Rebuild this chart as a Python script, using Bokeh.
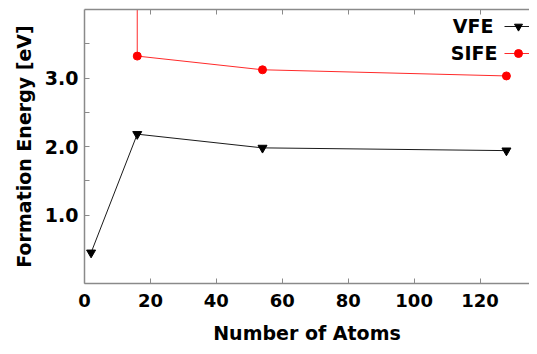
from bokeh.plotting import figure
from bokeh.models import Range1d, LinearAxis, FixedTicker, Legend, LegendItem, Label
from bokeh.core.properties import value
from bokeh.embed import file_html
from bokeh.resources import INLINE

# ---- data ----
atoms = [2, 16, 54, 128]
vfe = [0.45, 2.18, 1.98, 1.94]
sife_atoms = [16, 16, 54, 128]
sife = [4.6, 3.32, 3.12, 3.03]          # first value is off the top of the scale
x_ticks = [0, 20, 40, 60, 80, 100, 120]
y_ticks = [1.0, 2.0, 3.0]
y_minor = [1.5, 2.5, 3.5]
series_names = ["VFE", "SIFE"]

FONT = "DejaVu Sans"
AX = "#8a8a8a"

p = figure(width=529, height=346, x_range=Range1d(0, 135), y_range=Range1d(0, 4),
           output_backend="svg", toolbar_location=None,
           min_border_left=84, min_border_right=0, min_border_top=9, min_border_bottom=63)
p.outline_line_color = None
p.grid.visible = False
p.background_fill_color = "white"
p.border_fill_color = "white"

def style_axis(ax):
    ax.axis_line_color = AX
    ax.axis_line_width = 1.5
    ax.major_tick_line_color = AX
    ax.minor_tick_line_color = AX
    ax.major_tick_in = 5
    ax.major_tick_out = 0
    ax.minor_tick_in = 5
    ax.minor_tick_out = 0
    ax.major_label_text_font = FONT
    ax.major_label_text_font_style = "bold"
    ax.major_label_text_font_size = "18px"
    ax.major_label_text_color = "black"
    ax.axis_label_text_font = FONT
    ax.axis_label_text_font_style = "bold"
    ax.axis_label_text_font_size = "19px"
    ax.axis_label_text_color = "black"

xa = p.xaxis[0]
xa.ticker = FixedTicker(ticks=x_ticks, minor_ticks=[])
xa.axis_label = "Number of Atoms"
style_axis(xa)
xa.major_label_standoff = 10
xa.axis_label_standoff = 12

ya = p.yaxis[0]
ya.ticker = FixedTicker(ticks=y_ticks, minor_ticks=y_minor)
ya.major_label_overrides = {t: f"{t:.1f}" for t in y_ticks}
ya.axis_label = "Formation Energy [eV]"
style_axis(ya)
ya.major_label_text_font_size = "19px"
ya.major_label_standoff = 6
ya.axis_label_standoff = 7

top = LinearAxis(ticker=FixedTicker(ticks=x_ticks[1:], minor_ticks=[]))
style_axis(top)
top.major_label_overrides = {t: "" for t in x_ticks[1:]}
top.major_label_standoff = 0
p.add_layout(top, "above")

# ---- series ----
l1 = p.line(atoms, vfe, line_color="#1a1a1a", line_width=1)
s1 = p.scatter(atoms, vfe, marker="inverted_triangle", size=9, color="black")
l2 = p.line(sife_atoms, sife, line_color="#ff2a2a", line_width=1)
s2 = p.scatter(sife_atoms, sife, marker="circle", size=8, color="#ff0000")

legend = Legend(items=[LegendItem(label=value(""), renderers=[l1, s1]),
                       LegendItem(label=value(""), renderers=[l2, s2])],
                location=(420, 220), orientation="vertical",
                glyph_width=28, glyph_height=20, label_width=0, label_height=20,
                label_standoff=0, spacing=7, padding=0, margin=0,
                background_fill_alpha=0, border_line_color=None)
p.add_layout(legend)

for name, xx, yy in zip(series_names, [409, 413], [258, 231]):
    p.add_layout(Label(x=xx, y=yy, x_units="screen", y_units="screen", text=name,
                       text_align="right", text_baseline="middle",
                       text_font=FONT, text_font_style="bold",
                       text_font_size="19px", text_color="black"))

open("out.html", "w").write(file_html(p, INLINE))
